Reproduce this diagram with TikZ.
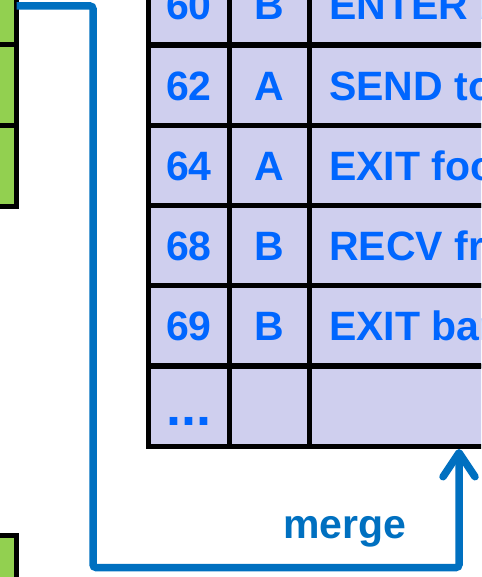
\documentclass[tikz,border=0pt]{standalone}
\usepackage{fontspec}
\setmainfont{Liberation Sans}
\usetikzlibrary{arrows.meta}
\definecolor{cellfill}{HTML}{CFCFEE}
\definecolor{boxgreen}{HTML}{92D050}
\definecolor{txtblue}{HTML}{0066FF}
\definecolor{linkblue}{HTML}{0070C0}
\tikzset{
  cell/.style={draw=black,line width=5pt,fill=cellfill},
  gbox/.style={draw=black,line width=5pt,fill=boxgreen},
  entry/.style={text=txtblue,font=\fontsize{41}{49}\selectfont\bfseries,inner sep=0pt},
  link/.style={draw=linkblue,line width=7.5pt,rounded corners=3pt,
    -{Straight Barb[length=24pt,width=32pt,round]}},
}
\begin{document}
\begin{tikzpicture}[x=1pt,y=-1pt]
\useasboundingbox (0,0) rectangle (481,577);
\clip (0,0) rectangle (481,577);
% green boxes (left)
\draw[gbox] (-30,-35) rectangle (16.5,45);
\draw[gbox] (-30,45) rectangle (16.5,125.5);
\draw[gbox] (-30,125.5) rectangle (16.5,206);
\draw[gbox] (-30,535.5) rectangle (16.5,640);
% table
\foreach \r in {0,...,5} {
  \draw[cell] (148.5,-35+80.2*\r) rectangle (229,45+80.2*\r);   % number
  \draw[cell] (229,-35+80.2*\r) rectangle (309,45+80.2*\r);     % thread
  \draw[cell] (309,-35+80.2*\r) rectangle (540,45+80.2*\r);     % event
}
\foreach \n/\c/\t [count=\i from 0] in {60/B/ENTER bar,62/A/SEND to B,64/A/EXIT foo,68/B/RECV from A,69/B/EXIT bar} {
  \node[entry,anchor=base] (num\i) at (189,20+80.2*\i) {\n};
  \node[entry,anchor=base] (thr\i) at (269,20+80.2*\i) {\c};
  \node[entry,anchor=base west] (evt\i) at (329,20+80.2*\i) {\t};
}
\node[entry,anchor=base,font=\fontsize{54}{60}\selectfont\bfseries] (dots) at (189,425) {...};
% merge connector
\coordinate (src) at (16.5,6);
\coordinate (tgt) at (459,449);
\draw[link] (src) -| (93,567.5) -| (tgt);
\node[text=linkblue,font=\fontsize{41}{49}\selectfont\bfseries,anchor=base,inner sep=0pt] (mergelbl) at (345,538) {merge};
\end{tikzpicture}
\end{document}
